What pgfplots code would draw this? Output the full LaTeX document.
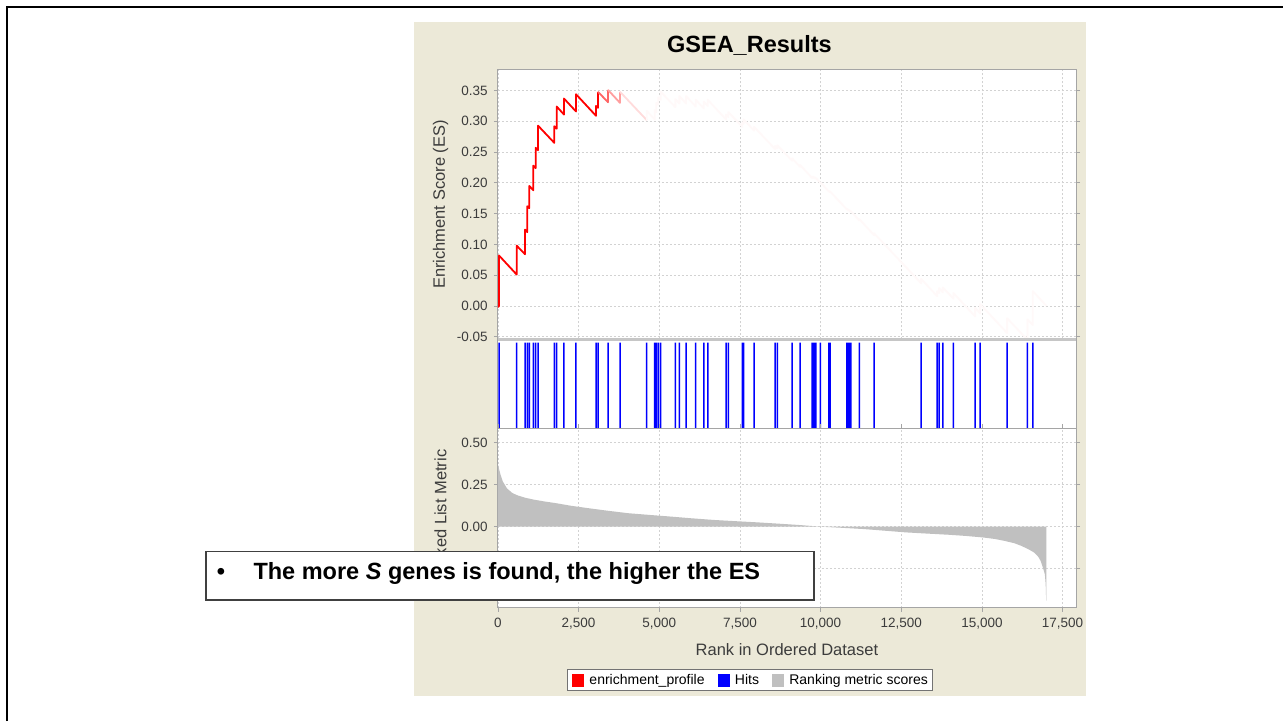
\documentclass[border=0pt]{standalone}
\usepackage{fontspec}
\setmainfont{Liberation Sans}
\usepackage{pgfplots}
\pgfplotsset{compat=1.18}

\definecolor{panelbg}{RGB}{236,233,216}
\definecolor{esred}{RGB}{255,0,0}
\definecolor{hitblue}{RGB}{0,0,255}
\definecolor{metricgray}{RGB}{192,192,192}
\definecolor{gridgray}{RGB}{210,210,210}
\definecolor{framegray}{RGB}{165,165,165}
\definecolor{labelgray}{RGB}{60,60,60}

\pgfplotsset{
  gsea/.style={
    scale only axis, width=578.1pt,
    xmin=0, xmax=17915,
    scaled x ticks=false,
    axis background/.style={fill=white},
    axis line style={framegray, line width=1pt},
    tick style={framegray, line width=0.8pt},
    major tick length=4pt,
    tick align=outside,
    grid style={gridgray, dash pattern=on 2pt off 2pt, line width=0.8pt},
    ticklabel style={font=\fontsize{13.5}{15}\selectfont, text=labelgray, inner sep=0pt},
    label style={font=\fontsize{16.5}{19}\selectfont, text=labelgray},
    xtick={0,2500,5000,7500,10000,12500,15000,17500},
    yticklabel style={anchor=east, xshift=-6pt},
    ylabel style={at={(axis description cs:-0.0993,0.5)}, anchor=center},
  }
}

\begin{document}
\begin{tikzpicture}
\useasboundingbox (0pt,0pt) rectangle (1283pt,721pt);
\fill[white] (0pt,0pt) rectangle (1283pt,721pt);
% slide frame
\draw[black, line width=2pt] (6.7pt,0pt) -- (6.7pt,714.3pt) -- (1283pt,714.3pt);
% chart panel
\fill[panelbg] (414pt,25pt) rectangle (1086pt,699pt);
\node[anchor=base, font=\bfseries\fontsize{23.5}{27}\selectfont] at (749.4pt,668.7pt) {GSEA\_Results};

% ---------------- enrichment score ----------------
\begin{axis}[gsea, at={(497.9pt,381.5pt)}, anchor=south west, height=270pt,
  ymin=-0.0545, ymax=0.3842,
  ytick={-0.05,0,0.05,0.1,0.15,0.2,0.25,0.3,0.35},
  yticklabels={-0.05,0.00,0.05,0.10,0.15,0.20,0.25,0.30,0.35},
  xticklabels={}, xtick style={draw=none},
  xmajorgrids, ymajorgrids,
  ylabel={Enrichment Score (ES)}]
% leading edge, solid
\addplot[esred, line width=1.8pt, line join=round] coordinates {
 (0,-0.002) (34,0.0) (34,0.082) (582,0.051) (582,0.098) (840,0.084) (840,0.124)
 (911,0.120) (911,0.162) (973,0.159) (973,0.195) (1097,0.188) (1097,0.228)
 (1171,0.224) (1171,0.257) (1243,0.253) (1243,0.293) (1748,0.265) (1748,0.292)
 (1822,0.288) (1822,0.324) (2048,0.311) (2048,0.337) (2420,0.316) (2420,0.344)
 (3040,0.309) (3040,0.325) (3102,0.322) (3102,0.348)};
\addplot[esred!60, line width=1.8pt, line join=round] coordinates {
 (3102,0.348) (3412,0.331) (3412,0.351)};
\addplot[esred!38, line width=1.8pt, line join=round] coordinates {
 (3412,0.351) (3784,0.330) (3784,0.348)};
\addplot[esred!14, line width=1.8pt, line join=round] coordinates {
 (3784,0.348) (4612,0.302)};
% remainder of the running sum, faded out
\addplot[esred!2.5, line width=1.8pt, line join=round] coordinates {
 (4612,0.302)(4612,0.317)(4860,0.303)(4860,0.318)(4910,0.315)(4910,0.330)
 (4972,0.327)(4972,0.339)(5046,0.335)(5046,0.348)(5499,0.323)(5499,0.336)
 (5623,0.329)(5623,0.341)(5830,0.329)(5830,0.341)(6131,0.324)(6131,0.335)
 (6379,0.321)(6379,0.332)(6503,0.325)(6503,0.335)(7070,0.303)(7070,0.311)
 (7141,0.307)(7141,0.315)(7575,0.291)(7575,0.298)(7615,0.296)(7615,0.303)
 (7937,0.285)(7937,0.291)(8589,0.255)(8589,0.260)(8660,0.256)(8660,0.261)
 (9116,0.236)(9116,0.240)(9364,0.226)(9364,0.229)(9736,0.208)(9736,0.210)
 (9777,0.208)(9777,0.210)(9820,0.208)(9820,0.209)(9851,0.207)(9851,0.208)
 (9993,0.200)(9993,0.201)(10254,0.186)(10254,0.187)(10294,0.185)(10294,0.186)
 (10812,0.157)(10812,0.158)(10843,0.156)(10843,0.157)(10874,0.155)(10874,0.156)
 (10905,0.154)(10905,0.155)(10936,0.153)(10936,0.154)(11202,0.139)(11202,0.141)
 (11658,0.115)(11658,0.118)(13115,0.037)(13115,0.044)(13611,0.016)(13611,0.024)
 (13673,0.021)(13673,0.029)(13788,0.022)(13788,0.030)(14116,0.012)(14116,0.021)
 (14789,-0.017)(14789,-0.003)(14944,-0.012)(14944,0.003)(15781,-0.044)(15781,-0.020)
 (16410,-0.055)(16410,-0.022)(16577,-0.031)(16577,0.024)(17000,0.0)};
\end{axis}

% ---------------- hits ----------------
\begin{axis}[gsea, at={(497.9pt,292.5pt)}, anchor=south west, height=89pt,
  ymin=0, ymax=1, ytick=\empty,
  xticklabels={}, xtick style={draw=none}]
\addplot[ybar, bar width=1.5pt, fill=hitblue, draw=none] coordinates {
 (34,0.965)(582,0.965)(840,0.965)(911,0.965)(973,0.965)(1097,0.965)(1171,0.965)
 (1243,0.965)(1748,0.965)(1822,0.965)(2048,0.965)(2420,0.965)(3040,0.965)
 (3102,0.965)(3412,0.965)(3784,0.965)(4612,0.965)(4860,0.965)(4910,0.965)
 (4972,0.965)(5046,0.965)(5499,0.965)(5623,0.965)(5830,0.965)(6131,0.965)
 (6379,0.965)(6503,0.965)(7070,0.965)(7141,0.965)(7575,0.965)(7615,0.965)
 (7937,0.965)(8589,0.965)(8660,0.965)(9116,0.965)(9364,0.965)(9736,0.965)
 (9777,0.965)(9820,0.965)(9851,0.965)(9993,0.965)(10254,0.965)(10294,0.965)
 (10812,0.965)(10843,0.965)(10874,0.965)(10905,0.965)(10936,0.965)(11202,0.965)
 (11658,0.965)(13115,0.965)(13611,0.965)(13673,0.965)(13788,0.965)(14116,0.965)
 (14789,0.965)(14944,0.965)(15781,0.965)(16410,0.965)(16577,0.965)};
\end{axis}

% ---------------- ranked list metric ----------------
\begin{axis}[gsea, at={(497.9pt,113.5pt)}, anchor=south west, height=179pt,
  ymin=-0.481, ymax=0.5845,
  ytick={-0.25,0,0.25,0.5},
  yticklabels={-0.25,0.00,0.25,0.50},
  xticklabels={0,{2,500},{5,000},{7,500},{10,000},{12,500},{15,000},{17,500}},
  xticklabel style={anchor=base, yshift=-16pt},
  xmajorgrids, ymajorgrids,
  xlabel={Rank in Ordered Dataset},
  xlabel style={at={(axis description cs:0.5,-0.2654)}, anchor=base},
  ylabel={Ranked List Metric},
  legend columns=3,
  legend image code/.code={\fill[#1] (0pt,-6pt) rectangle (11pt,6pt);},
  legend style={at={(axis description cs:0.4361,-0.3453)}, anchor=north,
    draw=black!55, line width=0.8pt, fill=white,
    font=\fontsize{14}{16}\selectfont, text=black,
    inner xsep=5pt, inner ysep=4pt,
    nodes={inner sep=0pt},
    /tikz/every odd column/.append style={column sep=5.5pt},
    /tikz/every even column/.append style={column sep=13pt}}]
\addplot[fill=metricgray, draw=none, forget plot] coordinates {
 (0,0) (0,0.37) (15,0.36) (40,0.34) (80,0.31) (150,0.27) (280,0.228) (450,0.20)
 (615,0.186) (850,0.172) (1140,0.160) (1450,0.150) (1800,0.140) (2250,0.125)
 (2730,0.112) (3400,0.095) (4050,0.080) (4700,0.070) (5370,0.060) (6000,0.050)
 (6700,0.040) (7350,0.033) (8020,0.026) (8700,0.018) (9340,0.010) (10000,0.0)
 (10700,-0.007) (11330,-0.014) (12000,-0.024) (12650,-0.034) (13300,-0.041)
 (13970,-0.048) (14500,-0.055) (15030,-0.064) (15400,-0.073) (15690,-0.084)
 (16000,-0.098) (16220,-0.114) (16450,-0.135) (16620,-0.154) (16750,-0.180)
 (16820,-0.204) (16900,-0.250) (16950,-0.284) (16975,-0.340) (16990,-0.440)
 (17000,-0.440) (17000,0)};
\addlegendimage{esred}
\addlegendentry{enrichment\_profile}
\addlegendimage{hitblue}
\addlegendentry{Hits}
\addlegendimage{metricgray}
\addlegendentry{Ranking metric scores}
\end{axis}

% panel separators
\draw[gray!45, line width=2.5pt] (497.9pt,381.5pt) -- (1076pt,381.5pt);
\draw[framegray, line width=1.2pt] (497.9pt,292.5pt) -- (1076pt,292.5pt);

% callout
\draw[fill=white, draw=black!75, line width=1.2pt] (206pt,121pt) rectangle (814pt,169.3pt);
\node[anchor=base, inner sep=0pt, font=\bfseries\fontsize{23.5}{27}\selectfont] at (221pt,141.7pt) {•};
\node[anchor=base west, inner sep=0pt, font=\bfseries\fontsize{23.5}{27}\selectfont] at (253.3pt,141.7pt)
  {The more \textit{S} genes is found, the higher the ES};
\end{tikzpicture}
\end{document}
